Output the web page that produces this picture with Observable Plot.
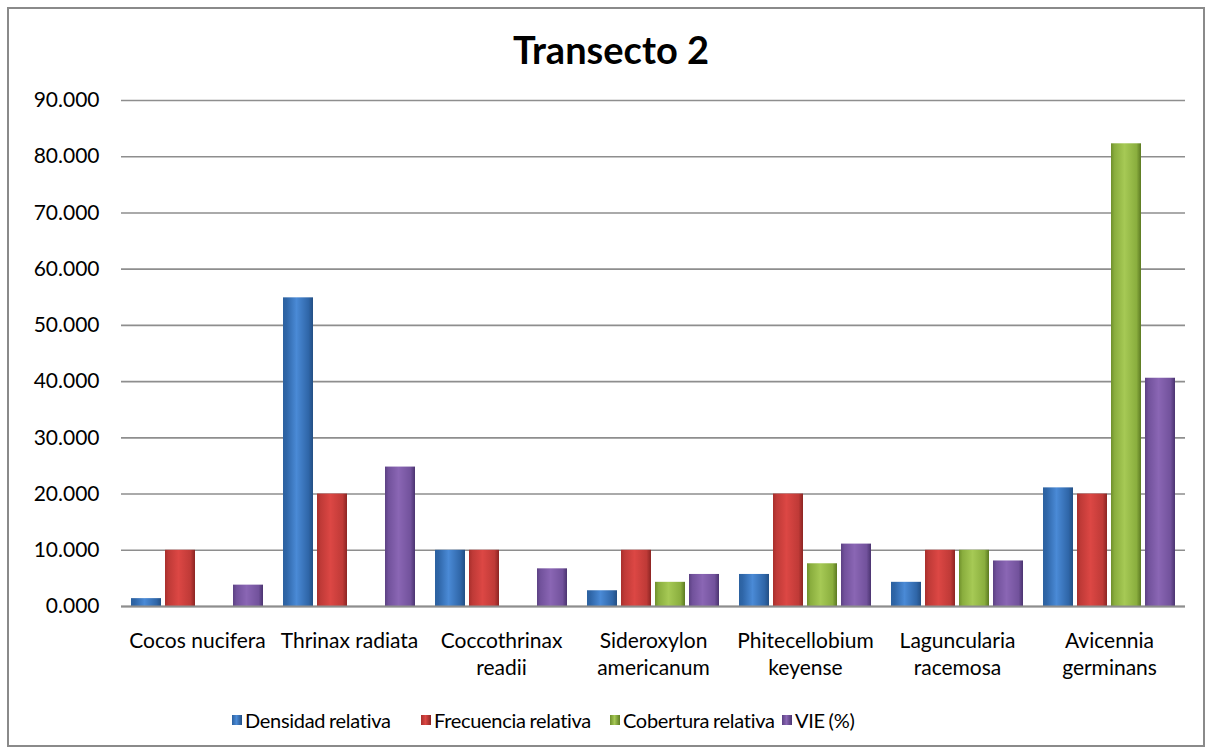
<!DOCTYPE html>
<html>
<head>
<meta charset="utf-8">
<script src="https://cdn.jsdelivr.net/npm/d3@7"></script>
<script src="https://cdn.jsdelivr.net/npm/@observablehq/plot@0.6"></script>
<style>
  html, body { margin: 0; padding: 0; background: #fff; }
  body { width: 1210px; height: 752px; position: relative; overflow: hidden; font-family: Lato, "Open Sans", sans-serif; }
  #frame { position: absolute; left: 7px; top: 7px; width: 1194px; height: 736px; border: 2px solid #8a8a8a; }
  #title { position: absolute; left: 6px; top: 26px; width: 1210px; text-align: center; font-size: 38px; font-weight: bold; color: #000; }
  #chart { position: absolute; left: 0; top: 80px; }
  #legend { position: absolute; left: 0; top: 708px; width: 1210px; height: 30px; font-size: 20px; color: #000; word-spacing: -1px; letter-spacing: -0.3px; }
  #legend .item { position: absolute; top: 0; display: flex; align-items: center; white-space: nowrap; }
  #legend .sw { width: 10px; height: 10px; margin-right: 3px; }
</style>
</head>
<body>
<div id="frame"></div>
<div id="title">Transecto 2</div>
<div id="chart"></div>
<div id="legend"></div>
<script>
// Species sampled along transect 2
const species = [
  "Cocos nucifera",
  "Thrinax radiata",
  "Coccothrinax\nreadii",
  "Sideroxylon\namericanum",
  "Phitecellobium\nkeyense",
  "Laguncularia\nracemosa",
  "Avicennia\ngerminans"
];
const seriesNames = ["Densidad relativa", "Frecuencia relativa", "Cobertura relativa", "VIE (%)"];
const densidad   = [1.4, 54.9, 10.0, 2.8, 5.7, 4.3, 21.1];
const frecuencia = [10.0, 20.0, 10.0, 10.0, 20.0, 10.0, 20.0];
const cobertura  = [0.0, 0.0, 0.0, 4.3, 7.6, 10.0, 82.3];
const vie        = [3.8, 24.8, 6.7, 5.7, 11.1, 8.1, 40.6];
const yTicks = [0, 10, 20, 30, 40, 50, 60, 70, 80, 90];

// Bar shading: dark edge, light centre, darker right edge
const shades = [
  ["#2c619f", "#4a8ad6", "#2f66a8", "#234f84"],
  ["#a82f2c", "#dc4744", "#bf3a37", "#8c2523"],
  ["#6f8f2c", "#a6c955", "#8aae3e", "#5c7a22"],
  ["#5c4183", "#8a66b4", "#72529c", "#4b3470"]
];
// Left edge of each legend entry
const legendLeft = [232, 421, 610, 782];

const seriesValues = [densidad, frecuencia, cobertura, vie];
const rows = [];
species.forEach((s, i) => {
  seriesNames.forEach((n, j) => rows.push({species: s, series: n, value: seriesValues[j][i]}));
});

const chart = Plot.plot({
  width: 1210,
  height: 616,
  marginLeft: 118,
  marginRight: 22,
  marginTop: 20,
  marginBottom: 90,
  style: {fontFamily: "Lato, 'Open Sans', sans-serif", fontSize: "21px", color: "#000", background: "transparent"},
  fx: {domain: species, padding: 0, label: null, axis: null},
  x: {domain: seriesNames, paddingInner: 0.13, paddingOuter: 0.28, axis: null},
  y: {domain: [0, 90], label: null},
  color: {domain: seriesNames, range: seriesNames.map((_, j) => `url(#shade${j})`)},
  marks: [
    Plot.gridY(yTicks, {stroke: "#8e8e8e", strokeOpacity: 1, strokeWidth: 1.6}),
    Plot.axisY(yTicks, {tickSize: 0, tickPadding: 22, tickFormat: d3.format(".3f"), fontSize: 21, label: null}),
    Plot.axisFx({anchor: "bottom", tickSize: 0, tickPadding: 22, fontSize: 21, lineHeight: 1.3, label: null}),
    Plot.barY(rows, {fx: "species", x: "series", y: "value", fill: "series"}),
    Plot.ruleY([0], {stroke: "#8e8e8e", strokeWidth: 2})
  ]
});

// Gradient definitions used by the bar fills
const ns = "http://www.w3.org/2000/svg";
function makeDefs() {
  const defs = document.createElementNS(ns, "defs");
  shades.forEach((c, j) => {
    const g = document.createElementNS(ns, "linearGradient");
    g.setAttribute("id", `shade${j}`);
    g.setAttribute("x1", "0"); g.setAttribute("x2", "1");
    g.setAttribute("y1", "0"); g.setAttribute("y2", "0");
    [[0, c[0]], [0.12, c[2]], [0.45, c[1]], [0.85, c[2]], [1, c[3]]].forEach(([o, col]) => {
      const st = document.createElementNS(ns, "stop");
      st.setAttribute("offset", o);
      st.setAttribute("stop-color", col);
      g.appendChild(st);
    });
    defs.appendChild(g);
  });
  return defs;
}
chart.insertBefore(makeDefs(), chart.firstChild);
document.getElementById("chart").appendChild(chart);

const legend = document.getElementById("legend");
seriesNames.forEach((n, j) => {
  const item = document.createElement("div");
  item.className = "item";
  item.style.left = legendLeft[j] + "px";
  const sw = document.createElement("div");
  sw.className = "sw";
  sw.style.background = `linear-gradient(to right, ${shades[j][0]}, ${shades[j][1]} 45%, ${shades[j][3]})`;
  const t = document.createElement("span");
  t.textContent = n;
  item.appendChild(sw);
  item.appendChild(t);
  legend.appendChild(item);
});
</script>
</body>
</html>
